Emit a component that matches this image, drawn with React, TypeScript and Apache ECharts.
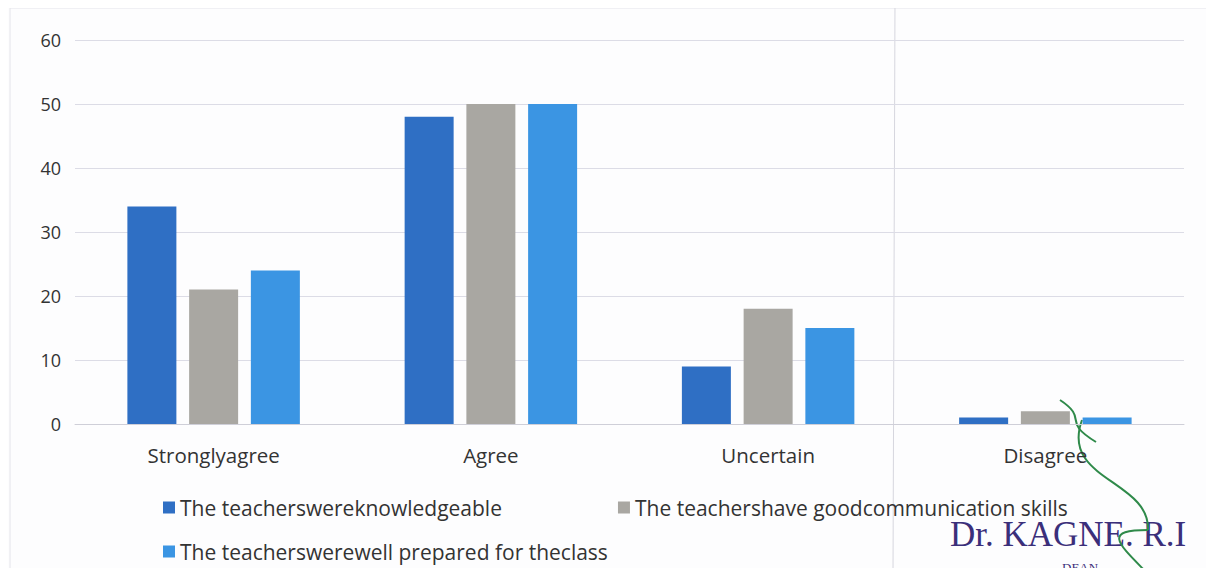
import React, { useEffect, useRef } from "react";
import * as echarts from "echarts";

const categories = ["Stronglyagree", "Agree", "Uncertain", "Disagree"];
const seriesNames = [
  "The teacherswereknowledgeable",
  "The teachershave goodcommunication skills",
  "The teacherswerewell prepared for theclass",
];
const knowledgeable = [34, 48, 9, 1];
const communication = [21, 50, 18, 2];
const prepared = [24, 50, 15, 1];
const yTicks = [0, 10, 20, 30, 40, 50, 60];
const colors = ["#2F6FC4", "#A9A7A2", "#3B95E3"];

export default function App() {
  const ref = useRef<HTMLDivElement>(null);
  useEffect(() => {
    if (!ref.current) return;
    const chart = echarts.init(ref.current, null, { renderer: "svg" });
    const font = "'Open Sans', 'Noto Sans', sans-serif";
    const values = [knowledgeable, communication, prepared];
    chart.setOption({
      animation: false,
      backgroundColor: "#fdfdfe",
      textStyle: { fontFamily: font },
      grid: { left: 75, right: 30, top: 40, bottom: 152 },
      legend: [
        {
          data: [seriesNames[0], seriesNames[1]],
          left: 158,
          top: 492,
          icon: "rect",
          itemWidth: 12,
          itemHeight: 12,
          itemGap: 116,
          textStyle: { fontSize: 21, color: "#333", fontFamily: font },
        },
        {
          data: [seriesNames[2]],
          left: 158,
          top: 536,
          icon: "rect",
          itemWidth: 12,
          itemHeight: 12,
          textStyle: { fontSize: 21, color: "#333", fontFamily: font },
        },
      ],
      xAxis: {
        type: "category",
        data: categories,
        axisLine: { lineStyle: { color: "#cfcfd8" } },
        axisTick: { show: false },
        axisLabel: { fontSize: 20.5, color: "#333", margin: 20, fontFamily: font },
      },
      yAxis: {
        type: "value",
        min: yTicks[0],
        max: yTicks[yTicks.length - 1],
        interval: 10,
        axisLine: { show: false },
        axisTick: { show: false },
        splitLine: { lineStyle: { color: "#dcdce6" } },
        axisLabel: { fontSize: 18, color: "#333", margin: 14, fontFamily: font },
      },
      series: seriesNames.map((name, i) => ({
        name,
        type: "bar",
        data: values[i],
        barWidth: 49,
        barGap: "26%",
        itemStyle: { color: colors[i] },
      })),
      graphic: [
        {
          type: "rect",
          shape: { x: 10, y: 8, width: 1220, height: 600 },
          style: { fill: "none", stroke: "#e4e4ea", lineWidth: 1 },
          silent: true,
        },
        {
          type: "line",
          shape: { x1: 895, y1: 0, x2: 893, y2: 576 },
          style: { stroke: "#d6d6de", lineWidth: 1 },
          silent: true,
        },
        {
          type: "text",
          left: 950,
          top: 517,
          style: {
            text: "Dr. KAGNE. R.I",
            fill: "#3b2f7a",
            font: "35px 'Liberation Serif', 'DejaVu Serif', serif",
          },
          silent: true,
        },
        {
          type: "text",
          left: 1062,
          top: 561,
          style: {
            text: "DEAN",
            fill: "#3b2f7a",
            font: "13px 'Liberation Serif', serif",
          },
          silent: true,
        },
        {
          type: "bezierCurve",
          shape: { x1: 1096, y1: 442, x2: 1060, y2: 400, cpx1: 1060, cpy1: 420, cpx2: 1090, cpy2: 420 },
          style: { stroke: "#2f8a4a", lineWidth: 2, fill: "none" },
          silent: true,
        },
        {
          type: "bezierCurve",
          shape: { x1: 1082, y1: 420, x2: 1148, y2: 530, cpx1: 1060, cpy1: 480, cpx2: 1150, cpy2: 480 },
          style: { stroke: "#2f8a4a", lineWidth: 2, fill: "none" },
          silent: true,
        },
        {
          type: "bezierCurve",
          shape: { x1: 1148, y1: 530, x2: 1150, y2: 576, cpx1: 1100, cpy1: 530, cpx2: 1120, cpy2: 545 },
          style: { stroke: "#2f8a4a", lineWidth: 2, fill: "none" },
          silent: true,
        },
      ],
    });
    return () => chart.dispose();
  }, []);
  return <div ref={ref} style={{ width: 1214, height: 576, margin: -8 }} />;
}
